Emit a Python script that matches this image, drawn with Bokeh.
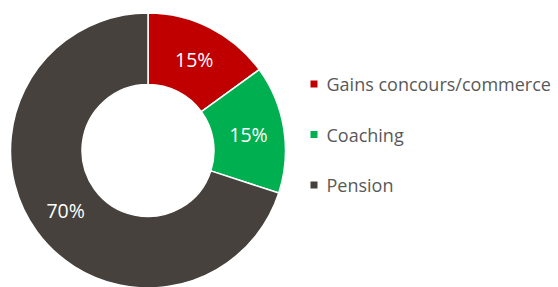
import math
from bokeh.plotting import figure
from bokeh.models import Range1d, ColumnDataSource
from bokeh.core.properties import value
from bokeh.embed import file_html
from bokeh.resources import INLINE

categories = ["Gains concours/commerce", "Coaching", "Pension"]
shares = [15, 15, 70]
colors = ["#C00000", "#00B050", "#46413D"]
pct_labels = ["15%", "15%", "70%"]

W, H = 558, 287
p = figure(width=W, height=H, output_backend="svg", toolbar_location=None,
           x_range=Range1d(0, W), y_range=Range1d(0, H), min_border=0,
           outline_line_color=None)
p.axis.visible = False
p.grid.visible = False
p.background_fill_color = "white"
p.border_fill_color = "white"

# layout (pixel-like units, y up)
cx, cy = 147.5, H - 150.0
r_in, r_out = 66.0, 137.5

total = float(sum(shares))
starts, ends, mids = [], [], []
cum = 0.0
for s in shares:
    a0 = math.pi / 2 - 2 * math.pi * cum / total
    cum += s
    a1 = math.pi / 2 - 2 * math.pi * cum / total
    starts.append(a0)
    ends.append(a1)
    mids.append((a0 + a1) / 2)

src = ColumnDataSource(dict(start=starts, end=ends, color=colors))
p.annular_wedge(x=cx, y=cy, inner_radius=r_in, outer_radius=r_out,
                start_angle="start", end_angle="end", direction="clock",
                fill_color="color", line_color="white", line_width=1.5,
                source=src)

r_mid = (r_in + r_out) / 2
lx = [cx + r_mid * math.cos(m) for m in mids]
ly = [cy + r_mid * math.sin(m) for m in mids]
p.text(x=lx, y=ly, text=pct_labels, text_color="white",
       text_font=value("Open Sans"), text_font_size="19.5px",
       text_align="center", text_baseline="middle")

# legend
leg_x = 313.5
leg_y = [H - 83.5, H - 134.0, H - 184.5]
p.scatter(x=[leg_x] * 3, y=leg_y, marker="square", size=7,
          fill_color=colors, line_color=None)
p.text(x=[leg_x + 12.5] * 3, y=leg_y, text=categories, text_color="#595959",
       text_font=value("Open Sans"), text_font_size="18px",
       text_align="left", text_baseline="middle")

open("out.html", "w").write(file_html(p, INLINE))
